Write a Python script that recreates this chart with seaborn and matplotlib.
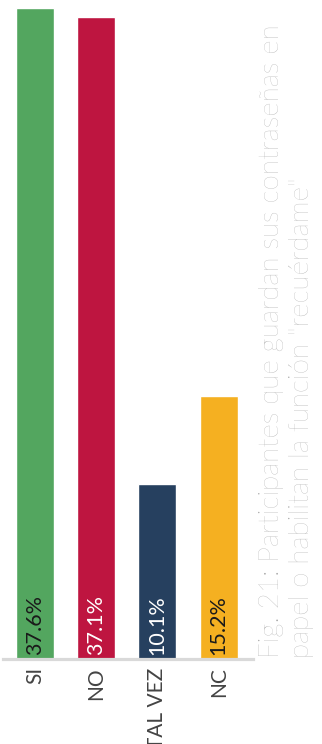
import matplotlib
matplotlib.use("Agg")
import matplotlib.pyplot as plt
import seaborn as sns
import pandas as pd

categories = ["SI", "NO", "TAL VEZ", "NC"]
values = [37.6, 37.1, 10.1, 15.2]
value_labels = ["37.6%", "37.1%", "10.1%", "15.2%"]
colors = ["#53A65F", "#BE1540", "#26405F", "#F5B021"]
label_colors = ["#1a1a1a", "#ffffff", "#ffffff", "#1a1a1a"]
title_lines = ["Fig. 21: Participantes que guardan sus contraseñas en",
               "papel o habilitan la función \"recuérdame\""]

sns.set_theme(style="white")
plt.rcParams["font.family"] = ["Lato", "DejaVu Sans"]

df = pd.DataFrame({"cat": categories, "val": values})

W, H = 322, 744
fig = plt.figure(figsize=(W / 100, H / 100), dpi=100)
ax = fig.add_axes([3 / W, 85 / H, 250 / W, 659 / H])
sns.barplot(data=df, x="cat", y="val", hue="cat", palette=colors,
            width=0.62, legend=False, ax=ax, saturation=1)

ax.set_xlim(-0.52, 3.56)
ax.set_ylim(0, 38.06)
ax.set_xlabel("")
ax.set_ylabel("")
ax.set_yticks([])
for s in ["top", "right", "left"]:
    ax.spines[s].set_visible(False)
ax.spines["bottom"].set_color("#d9d9d9")
ax.spines["bottom"].set_linewidth(2.3)
ax.tick_params(axis="x", length=0, pad=6, labelsize=15, labelcolor="#444444")
for t in ax.get_xticklabels():
    t.set_rotation(90)

for i, (lab, c) in enumerate(zip(value_labels, label_colors)):
    ax.text(i, 0.25, lab, rotation=90, ha="center", va="bottom",
            fontsize=15.5, color=c)

fig.text(271 / W, 86 / H, title_lines[0], rotation=90, ha="center", va="bottom",
         fontsize=20, color="#a8a8a8", fontweight="light")
fig.text(302 / W, 86 / H, title_lines[1], rotation=90, ha="center", va="bottom",
         fontsize=20, color="#a8a8a8", fontweight="light")

fig.savefig("out.png", dpi=100)
